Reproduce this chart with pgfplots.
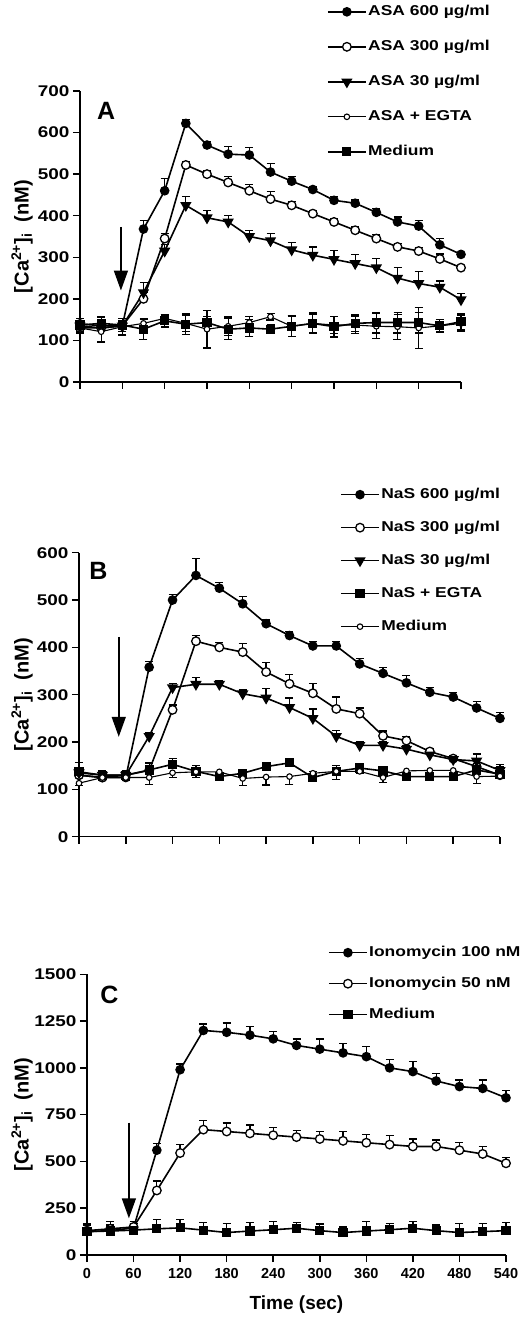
\documentclass[border=0pt]{standalone}
\usepackage{fontspec}
\setmainfont{Liberation Sans}
\newfontfamily\wide{Liberation Sans}[FakeStretch=1.22]
\usepackage{pgfplots}
\pgfplotsset{compat=1.18}
\usepackage{pgfplotstable}
\usetikzlibrary{arrows.meta}

\pgfplotstableread{
x y e
0 140 8
30 135 10
60 135 10
90 368 20
120 460 30
150 622 10
180 570 8
210 548 18
240 546 18
270 505 20
300 483 12
330 463 8
360 437 10
390 430 8
420 408 10
450 385 12
480 375 14
510 330 16
540 307 5
}\Aa
\pgfplotstableread{
x y e
0 130 8
30 130 10
60 135 10
90 200 15
120 345 12
150 522 8
180 500 8
210 480 15
240 460 15
270 440 18
300 425 10
330 405 8
360 385 8
390 365 8
420 345 10
450 325 8
480 315 8
510 296 12
540 275 5
}\Ab
\pgfplotstableread{
x y e
0 135 10
30 130 10
60 135 10
90 215 25
120 315 15
150 425 22
180 395 18
210 385 15
240 350 15
270 340 18
300 318 18
330 305 20
360 295 22
390 285 22
420 275 22
450 250 25
480 237 28
510 228 15
540 198 15
}\Ac
\pgfplotstableread{
x y e
0 130 12
30 121 25
60 133 20
90 141 10
120 153 8
150 141 20
180 127 45
210 134 22
240 143 15
270 157 8
300 134 25
330 141 22
360 137 20
390 137 20
420 134 30
450 133 30
480 130 50
510 135 15
540 141 20
}\Ad
\pgfplotstableread{
x y e
0 137 15
30 141 15
60 137 15
90 127 25
120 147 15
150 139 25
180 143 15
210 127 25
240 130 20
270 127 10
300 134 25
330 141 25
360 133 25
390 141 20
420 143 25
450 143 25
480 143 25
510 135 15
540 145 20
}\Ae

\pgfplotstableread{
x y e
0 130 10
30 125 10
60 125 10
90 358 12
120 500 12
150 552 35
180 525 12
210 492 15
240 450 8
270 425 8
300 403 10
330 403 10
360 365 12
390 345 12
420 325 15
450 305 10
480 295 10
510 272 13
540 250 13
}\Ba
\pgfplotstableread{
x y e
0 130 10
30 125 10
60 130 10
90 140 10
120 268 10
150 413 12
180 400 10
210 390 18
240 348 20
270 323 20
300 303 20
330 270 25
360 260 12
390 213 10
420 203 8
450 180 5
480 165 5
510 148 5
540 130 5
}\Bb
\pgfplotstableread{
x y e
0 135 10
30 130 10
60 130 10
90 212 8
120 315 8
150 322 15
180 322 8
210 302 8
240 293 20
270 273 20
300 250 20
330 212 12
360 193 8
390 193 8
420 185 8
450 173 8
480 163 8
510 160 15
540 140 12
}\Bc
\pgfplotstableread{
x y e
0 137 20
30 130 10
60 130 10
90 141 15
120 153 12
150 138 12
180 127 8
210 134 8
240 148 8
270 156 8
300 125 12
330 138 12
360 145 10
390 139 10
420 127 8
450 127 8
480 127 8
510 141 8
540 132 15
}\Bd
\pgfplotstableread{
x y e
0 113 5
30 125 5
60 125 5
90 125 15
120 135 10
150 137 12
180 137 5
210 123 15
240 126 17
270 127 17
300 134 5
330 138 17
360 138 5
390 125 10
420 139 5
450 140 5
480 140 5
510 127 15
540 128 5
}\Be

\pgfplotstableread{
x y e
0 125 35
30 130 30
60 145 25
90 560 35
120 990 30
150 1200 35
180 1190 50
210 1175 45
240 1155 40
270 1120 35
300 1100 55
330 1080 50
360 1060 55
390 1000 45
420 980 55
450 930 40
480 900 35
510 890 45
540 840 40
}\Ca
\pgfplotstableread{
x y e
0 130 30
30 140 40
60 150 30
90 345 50
120 545 45
150 670 50
180 660 45
210 650 45
240 640 40
270 630 35
300 620 40
330 610 50
360 600 45
390 590 50
420 580 40
450 580 35
480 560 40
510 540 40
540 490 30
}\Cb
\pgfplotstableread{
x y e
0 125 40
30 128 35
60 133 35
90 140 50
120 145 45
150 133 40
180 120 50
210 128 45
240 135 45
270 143 30
300 130 35
330 120 30
360 128 50
390 135 35
420 143 35
450 130 30
480 120 50
510 125 45
540 130 45
}\Cc

\pgfplotsset{
  panel/.style={
    scale only axis,
    axis x line=bottom, axis y line=left,
    axis line style={-, line width=1.5pt, black},
    xmin=0, xmax=540, ymin=0, clip=false,
    xtick={0,60,...,540},
    tick style={line width=1.5pt, black},
    major tick length=7pt, tick align=outside,
    yticklabel style={font=\wide\bfseries\fontsize{15.5}{15.5}\selectfont},
    xticklabel style={font=\bfseries\fontsize{14.5}{14.5}\selectfont},
    /pgf/number format/assume math mode=true,
    /pgf/number format/1000 sep={},
    ylabel={[Ca\textsuperscript{2+}]\textsubscript{i}\ \ (nM)},
    legend cell align=left,
    legend style={draw=none, fill=none, inner sep=0pt,
      font=\wide\bfseries\fontsize{14.3}{14.3}\selectfont,
      nodes={inner sep=1.5pt, text height=11pt, text depth=3pt}},
    legend image code/.code={\draw[mark repeat=2,mark phase=2,##1] plot coordinates {(0pt,0pt) (19pt,0pt) (38pt,0pt)};},
    every axis plot/.append style={line width=1.6pt, black},
  },
  ylab/.style={every axis y label/.style={at={(axis description cs:#1,0.5)}, rotate=90, anchor=center, font=\bfseries\fontsize{20}{20}\selectfont}},
  mfill/.style={mark=*, mark size=4pt, mark options={solid, fill=black}},
  mopen/.style={mark=*, mark size=4.3pt, mark options={solid, fill=white, line width=1.3pt}},
  mtri/.style={mark=triangle*, mark size=5pt, mark options={solid, fill=black, rotate=180}},
  msq/.style={mark=square*, mark size=3.8pt, mark options={solid, fill=black}},
  msmall/.style={mark=*, mark size=2.8pt, mark options={solid, fill=white, line width=1.1pt}, line width=1.1pt},
  ebplus/.style={error bars/.cd, y dir=plus, y explicit, error bar style={line width=1.3pt, black}, error mark options={rotate=90, mark size=4pt, line width=1.3pt, black}},
  ebminus/.style={error bars/.cd, y dir=minus, y explicit, error bar style={line width=1.3pt, black}, error mark options={rotate=90, mark size=4pt, line width=1.3pt, black}},
  ebboth/.style={error bars/.cd, y dir=both, y explicit, error bar style={line width=1.3pt, black}, error mark options={rotate=90, mark size=4pt, line width=1.3pt, black}},
}

\begin{document}
\begin{tikzpicture}[x=1pt,y=1pt]
\path[use as bounding box] (0,0) rectangle (520,1318);

% Panel A
\begin{axis}[panel, ylab=-0.152, at={(80pt,936pt)}, anchor=south west,
  width=381pt, height=291pt, ymax=700, ytick={0,100,...,700},
  xticklabels={},
  legend style={at={(axis description cs:0.648,1.302)}, anchor=north west, row sep=18pt}]
\addplot[mfill, ebplus] table[x=x,y=y,y error=e] {\Aa};
\addlegendentry{ASA 600 µg/ml}
\addplot[mopen, ebplus] table[x=x,y=y,y error=e] {\Ab};
\addlegendentry{ASA 300 µg/ml}
\addplot[mtri, ebplus] table[x=x,y=y,y error=e] {\Ac};
\addlegendentry{ASA 30 µg/ml}
\addplot[msmall, ebboth] table[x=x,y=y,y error=e] {\Ad};
\addlegendentry{ASA + EGTA}
\addplot[msq, ebboth] table[x=x,y=y,y error=e] {\Ae};
\addlegendentry{Medium}
\node[font=\bfseries\fontsize{25}{25}\selectfont] at (axis cs:37,653) {A};
\draw[line width=1.5pt, -{Triangle[width=14pt,length=20pt]}] (axis cs:58,373) -- (axis cs:58,220);
\end{axis}

% Panel B
\begin{axis}[panel, ylab=-0.135, at={(79pt,481.3pt)}, anchor=south west,
  width=421pt, height=284pt, ymax=600, ytick={0,100,...,600},
  xticklabels={},
  legend style={at={(axis description cs:0.62,1.235)}, anchor=north west, row sep=16pt}]
\addplot[mfill, ebplus] table[x=x,y=y,y error=e] {\Ba};
\addlegendentry{NaS 600 µg/ml}
\addplot[mopen, ebplus] table[x=x,y=y,y error=e] {\Bb};
\addlegendentry{NaS 300 µg/ml}
\addplot[mtri, ebplus] table[x=x,y=y,y error=e] {\Bc};
\addlegendentry{NaS 30 µg/ml}
\addplot[msq, ebplus] table[x=x,y=y,y error=e] {\Bd};
\addlegendentry{NaS + EGTA}
\addplot[msmall, ebminus] table[x=x,y=y,y error=e] {\Be};
\addlegendentry{Medium}
\node[font=\bfseries\fontsize{25}{25}\selectfont] at (axis cs:25,562) {B};
\draw[line width=1.5pt, -{Triangle[width=14pt,length=20pt]}] (axis cs:51,422) -- (axis cs:51,211);
\end{axis}

% Panel C
\begin{axis}[panel, ylab=-0.155, at={(87pt,63pt)}, anchor=south west,
  width=419pt, height=280.7pt, ymax=1500, ytick={0,250,...,1500},
  xlabel={Time (sec)},
  every axis x label/.style={at={(axis description cs:0.5,-0.178)}, anchor=center, font=\bfseries\fontsize{19}{19}\selectfont},
  xticklabel shift=3pt,
  legend style={at={(axis description cs:0.575,1.108)}, anchor=north west, row sep=14pt}]
\addplot[mfill, ebplus] table[x=x,y=y,y error=e] {\Ca};
\addlegendentry{Ionomycin 100 nM}
\addplot[mopen, ebplus] table[x=x,y=y,y error=e] {\Cb};
\addlegendentry{Ionomycin 50 nM}
\addplot[msq, ebplus] table[x=x,y=y,y error=e] {\Cc};
\addlegendentry{Medium}
\node[font=\bfseries\fontsize{25}{25}\selectfont] at (axis cs:29,1390) {C};
\draw[line width=1.5pt, -{Triangle[width=14pt,length=20pt]}] (axis cs:54,707) -- (axis cs:54,196);
\end{axis}
\end{tikzpicture}
\end{document}
